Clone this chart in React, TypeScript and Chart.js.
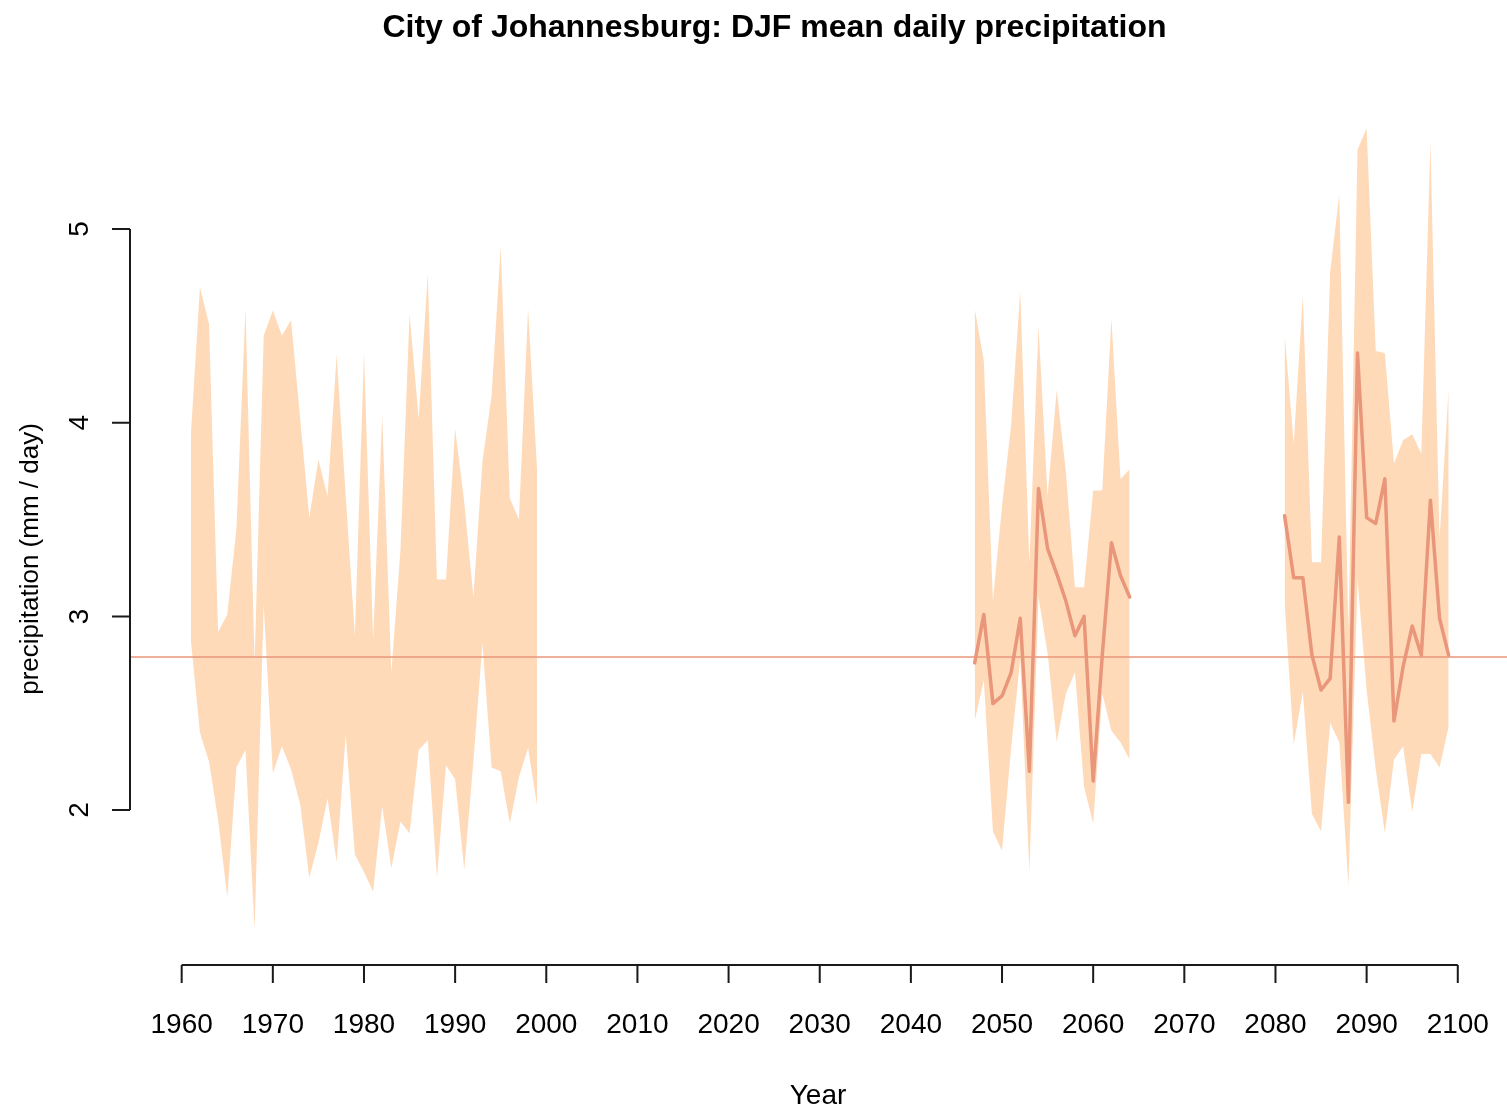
import { useEffect, useRef } from "react";
import { Chart, registerables } from "chart.js";

Chart.register(...registerables);

// ---------- data ----------
const titleText = "City of Johannesburg: DJF mean daily precipitation";
const xTitle = "Year";
const yTitle = "precipitation (mm / day)";

const xTicks = [1960, 1970, 1980, 1990, 2000, 2010, 2020, 2030, 2040, 2050, 2060, 2070, 2080, 2090, 2100];
const yTicks = [2, 3, 4, 5];

const histYears = [1961, 1962, 1963, 1964, 1965, 1966, 1967, 1968, 1969, 1970, 1971, 1972, 1973, 1974, 1975, 1976, 1977, 1978, 1979, 1980, 1981, 1982, 1983, 1984, 1985, 1986, 1987, 1988, 1989, 1990, 1991, 1992, 1993, 1994, 1995, 1996, 1997, 1998, 1999];
const histUpper = [3.93, 4.70, 4.51, 2.92, 3.01, 3.45, 4.59, 2.76, 4.45, 4.58, 4.45, 4.53, 4.02, 3.51, 3.81, 3.62, 4.35, 3.62, 2.90, 4.36, 2.88, 4.04, 2.71, 3.34, 4.56, 4.02, 4.77, 3.19, 3.19, 3.97, 3.59, 3.10, 3.80, 4.14, 4.91, 3.61, 3.50, 4.59, 3.75];
const histLower = [2.88, 2.40, 2.25, 1.95, 1.55, 2.22, 2.31, 1.38, 3.06, 2.19, 2.33, 2.21, 2.03, 1.65, 1.83, 2.06, 1.73, 2.39, 1.77, 1.68, 1.58, 2.02, 1.70, 1.94, 1.88, 2.31, 2.36, 1.65, 2.23, 2.16, 1.69, 2.25, 2.86, 2.22, 2.20, 1.93, 2.17, 2.32, 2.02];

const midYears = [2047, 2048, 2049, 2050, 2051, 2052, 2053, 2054, 2055, 2056, 2057, 2058, 2059, 2060, 2061, 2062, 2063, 2064];
const midUpper = [4.59, 4.32, 3.08, 3.57, 3.99, 4.68, 3.27, 4.50, 3.62, 4.17, 3.75, 3.15, 3.15, 3.65, 3.65, 4.54, 3.71, 3.76];
const midLower = [2.46, 2.67, 1.89, 1.79, 2.32, 2.78, 1.68, 3.10, 2.81, 2.35, 2.60, 2.71, 2.12, 1.93, 2.60, 2.41, 2.35, 2.26];
const midMean = [2.76, 3.01, 2.55, 2.59, 2.71, 2.99, 2.20, 3.66, 3.35, 3.22, 3.08, 2.90, 3.00, 2.15, 2.80, 3.38, 3.21, 3.10];

const lateYears = [2081, 2082, 2083, 2084, 2085, 2086, 2087, 2088, 2089, 2090, 2091, 2092, 2093, 2094, 2095, 2096, 2097, 2098, 2099];
const lateUpper = [4.46, 3.89, 4.66, 3.28, 3.28, 4.78, 5.18, 2.93, 5.41, 5.52, 4.37, 4.36, 3.79, 3.91, 3.94, 3.84, 5.45, 3.40, 4.18];
const lateLower = [3.07, 2.34, 2.61, 1.98, 1.89, 2.45, 2.35, 1.61, 3.19, 2.62, 2.21, 1.88, 2.26, 2.33, 1.99, 2.29, 2.29, 2.22, 2.43];
const lateMean = [3.52, 3.20, 3.20, 2.80, 2.62, 2.68, 3.41, 2.04, 4.36, 3.51, 3.48, 3.71, 2.46, 2.74, 2.95, 2.80, 3.60, 2.99, 2.80];

const baselineValue = 2.79;

// axis ranges (R-style 4% extension)
const X_MIN = 1954.33;
const X_MAX = 2105.4;
const Y_MIN = 1.2;
const Y_MAX = 5.718;

// ---------- styles ----------
const BAND = "#FFDAB9";
const LINE = "#E9967A";
const FONT = "'Liberation Sans', Arial, Helvetica, sans-serif";

const pts = (xs: number[], ys: number[]) => xs.map((x, i) => ({ x, y: ys[i] }));

const bandStyle = {
  borderColor: "rgba(0,0,0,0)",
  borderWidth: 0,
  backgroundColor: BAND,
  pointRadius: 0,
  tension: 0,
  order: 2,
};

const axesPlugin = {
  id: "rAxes",
  afterDraw(chart: any) {
    const ctx: CanvasRenderingContext2D = chart.ctx;
    const xs = chart.scales.x;
    const ys = chart.scales.y;
    const area = chart.chartArea;
    ctx.save();
    ctx.strokeStyle = "#1a1a1a";
    ctx.fillStyle = "#000";
    ctx.lineWidth = 2;

    // x axis
    const yAxis = area.bottom;
    const x0 = xs.getPixelForValue(xTicks[0]);
    const x1 = xs.getPixelForValue(xTicks[xTicks.length - 1]);
    ctx.beginPath();
    ctx.moveTo(x0, yAxis);
    ctx.lineTo(x1, yAxis);
    xTicks.forEach((t) => {
      const px = xs.getPixelForValue(t);
      ctx.moveTo(px, yAxis);
      ctx.lineTo(px, yAxis + 18);
    });
    ctx.stroke();
    ctx.font = `28px ${FONT}`;
    ctx.textAlign = "center";
    ctx.textBaseline = "alphabetic";
    xTicks.forEach((t) => {
      ctx.fillText(String(t), xs.getPixelForValue(t), yAxis + 68);
    });

    // y axis
    const xAxis = area.left;
    const yy0 = ys.getPixelForValue(yTicks[0]);
    const yy1 = ys.getPixelForValue(yTicks[yTicks.length - 1]);
    ctx.beginPath();
    ctx.moveTo(xAxis, yy0);
    ctx.lineTo(xAxis, yy1);
    yTicks.forEach((t) => {
      const py = ys.getPixelForValue(t);
      ctx.moveTo(xAxis, py);
      ctx.lineTo(xAxis - 18, py);
    });
    ctx.stroke();
    yTicks.forEach((t) => {
      const py = ys.getPixelForValue(t);
      ctx.save();
      ctx.translate(xAxis - 42, py);
      ctx.rotate(-Math.PI / 2);
      ctx.textAlign = "center";
      ctx.fillText(String(t), 0, 0);
      ctx.restore();
    });

    // axis titles
    ctx.font = `28px ${FONT}`;
    ctx.textAlign = "center";
    ctx.fillText(xTitle, 818, 1104);

    ctx.save();
    ctx.font = `26px ${FONT}`;
    ctx.translate(38, 559);
    ctx.rotate(-Math.PI / 2);
    ctx.textAlign = "center";
    ctx.fillText(yTitle, 0, 0);
    ctx.restore();

    // main title
    ctx.font = `bold 32px ${FONT}`;
    ctx.textAlign = "center";
    ctx.fillText(titleText, 774.5, 37);

    ctx.restore();
  },
};

export default function App() {
  const ref = useRef<HTMLCanvasElement>(null);

  useEffect(() => {
    const canvas = ref.current;
    if (!canvas) return;
    const chart = new Chart(canvas, {
      type: "line",
      data: {
        datasets: [
          {
            label: "mid mean",
            data: pts(midYears, midMean),
            borderColor: LINE,
            borderWidth: 3.5,
            borderCapStyle: "round",
            borderJoinStyle: "round",
            pointRadius: 0,
            fill: false,
            tension: 0,
            order: 0,
          },
          {
            label: "late mean",
            data: pts(lateYears, lateMean),
            borderColor: LINE,
            borderWidth: 3.5,
            borderCapStyle: "round",
            borderJoinStyle: "round",
            pointRadius: 0,
            fill: false,
            tension: 0,
            order: 0,
          },
          {
            label: "baseline",
            data: [
              { x: X_MIN, y: baselineValue },
              { x: X_MAX, y: baselineValue },
            ],
            borderColor: LINE,
            borderWidth: 1.6,
            pointRadius: 0,
            fill: false,
            order: 1,
          },
          { label: "hist upper", data: pts(histYears, histUpper), fill: "+1", ...bandStyle },
          { label: "hist lower", data: pts(histYears, histLower), fill: false, ...bandStyle },
          { label: "mid upper", data: pts(midYears, midUpper), fill: "+1", ...bandStyle },
          { label: "mid lower", data: pts(midYears, midLower), fill: false, ...bandStyle },
          { label: "late upper", data: pts(lateYears, lateUpper), fill: "+1", ...bandStyle },
          { label: "late lower", data: pts(lateYears, lateLower), fill: false, ...bandStyle },
        ] as any,
      },
      options: {
        responsive: false,
        devicePixelRatio: 1,
        animation: false,
        layout: { padding: { left: 130, right: 0, top: 90, bottom: 144 } },
        scales: {
          x: { type: "linear", min: X_MIN, max: X_MAX, display: false },
          y: { type: "linear", min: Y_MIN, max: Y_MAX, display: false },
        },
        plugins: {
          legend: { display: false },
          tooltip: { enabled: false },
          title: { display: false },
        },
        events: [],
      } as any,
      plugins: [axesPlugin],
    });
    return () => chart.destroy();
  }, []);

  return (
    <div style={{ position: "fixed", left: 0, top: 0, width: 1507, height: 1109, background: "#fff" }}>
      <canvas ref={ref} width={1507} height={1109} style={{ display: "block", width: 1507, height: 1109 }} />
    </div>
  );
}
